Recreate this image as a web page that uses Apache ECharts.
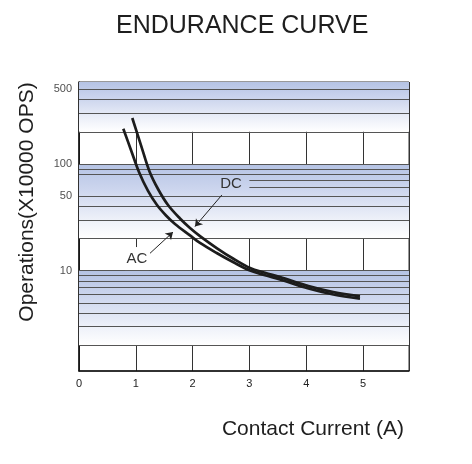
<!DOCTYPE html>
<html>
<head>
<meta charset="utf-8">
<title>Endurance curve</title>
<script src="https://cdn.jsdelivr.net/npm/echarts@6/dist/echarts.min.js"></script>
<style>
  html, body { margin: 0; padding: 0; background: #fff; }
  #chart { width: 472px; height: 464px; }
</style>
</head>
<body>
<div id="chart"></div>
<script>
// values: contact current (A) / operations (x10000)
var currentAC = [0.78, 0.915, 1.056, 1.215, 1.373, 1.532, 1.69, 1.954, 2.13, 2.424, 2.711, 3.011, 3.275, 3.539, 4.04, 4.477, 4.947];
var opsAC     = [213.7, 135,  84,    55.8,  41.2,  32.9,  27.4, 21.4,  18.2, 14.65, 12.06, 10.04, 9.08,  8.27,  6.81, 5.99,  5.47];
var currentDC = [0.938, 1.092, 1.238, 1.391, 1.567, 1.778, 1.954, 2.13, 2.424, 2.711, 3.011, 3.275, 3.539, 4.04, 4.477, 4.947];
var opsDC     = [269,   149.4, 85.9,  58.2,  41.2,  30.8,  25.1,  21.1, 16.3,  13.0,  10.6,  9.56,  8.71,  7.17, 6.30,  5.76];

// axis ticks and horizontal rules
var xTicks = [0, 1, 2, 3, 4, 5];
var yTickLabels = [500, 100, 50, 10];
var gridValues = [2, 3, 4, 5, 6, 7, 8, 9, 10, 20, 30, 40, 50, 80, 90, 100, 200, 300, 400, 500];
var shortGridValues = [60, 70];   // drawn from 3 A to the right only
var bands = [[200, 585], [20, 100], [2, 10]];

var xMax = 5.81;
var font = 'Liberation Sans, Arial, sans-serif';

function pairs(xs, ys) {
    var out = [];
    for (var i = 0; i < xs.length; i++) out.push([xs[i], ys[i]]);
    return out;
}

var ruleLines = gridValues.map(function (v) { return { yAxis: v }; });
shortGridValues.forEach(function (v) {
    ruleLines.push([{ coord: [3, v] }, { coord: [xMax, v] }]);
});

var bandFill = new echarts.graphic.LinearGradient(0, 0, 0, 1, [
    { offset: 0, color: '#b5c3e4' },
    { offset: 0.35, color: '#cdd6ee' },
    { offset: 0.75, color: '#eef1f9' },
    { offset: 1, color: '#ffffff' }
]);

var chart = echarts.init(document.getElementById('chart'));

var option = {
    animation: false,
    title: [
        {
            text: 'ENDURANCE CURVE',
            left: 111,
            top: 9,
            textStyle: { fontFamily: font, fontSize: 25, fontWeight: 'normal', color: '#1e1e1e' }
        },
        {
            text: 'Contact Current (A)',
            right: 63,
            top: 414,
            textStyle: { fontFamily: font, fontSize: 21, fontWeight: 'normal', color: '#1e1e1e' }
        }
    ],
    graphic: [{
        type: 'text',
        x: 27,
        y: 202,
        rotation: Math.PI / 2,
        style: {
            text: 'Operations(X10000 OPS)',
            font: '21px ' + font,
            fill: '#1e1e1e',
            align: 'center',
            verticalAlign: 'middle'
        }
    }],
    grid: {
        left: 79, right: 63, top: 82, bottom: 93,
        show: true, borderColor: '#333', borderWidth: 1
    },
    xAxis: {
        type: 'value',
        min: 0,
        max: xMax,
        interval: 1,
        axisLine: { lineStyle: { color: '#111', width: 1.5 } },
        axisTick: { show: false },
        axisLabel: {
            margin: 7, fontSize: 11, fontFamily: font, color: '#222',
            showMaxLabel: false,
            formatter: function (v) { return xTicks.indexOf(v) >= 0 ? String(v) : ''; }
        },
        splitLine: { show: true, lineStyle: { color: '#333', width: 1 } }
    },
    yAxis: {
        type: 'log',
        min: 1.15,
        max: 585,
        axisLine: { show: true, lineStyle: { color: '#111', width: 1.5 } },
        axisTick: { show: false },
        axisLabel: { show: false },
        splitLine: { show: false }
    },
    series: [
        {
            name: 'ticks',
            type: 'scatter',
            data: yTickLabels.map(function (v) { return [0, v]; }),
            symbolSize: 0,
            clip: false,
            silent: true,
            z: 1,
            label: {
                show: true,
                position: 'left',
                distance: 7,
                fontSize: 11,
                fontFamily: font,
                color: '#222',
                formatter: function (p) { return p.value[1]; }
            },
            markArea: {
                silent: true,
                itemStyle: { color: bandFill },
                data: bands.map(function (b) { return [{ yAxis: b[1] }, { yAxis: b[0] }]; })
            },
            markLine: {
                silent: true,
                symbol: ['none', 'none'],
                label: { show: false },
                lineStyle: { color: '#555', width: 1, type: 'solid' },
                data: ruleLines
            }
        },
        {
            name: 'AC',
            type: 'line',
            data: pairs(currentAC, opsAC),
            showSymbol: false,
            smooth: 0.35,
            z: 5,
            lineStyle: { color: '#1c1c1c', width: 2.7 },
            markLine: {
                silent: true,
                symbol: ['none', 'arrow'],
                symbolSize: 7,
                label: { show: false },
                lineStyle: { color: '#222', width: 1, type: 'solid' },
                data: [[{ coord: [1.25, 14.55] }, { coord: [1.655, 23.0] }]]
            },
            markPoint: {
                silent: true,
                symbol: 'circle',
                symbolSize: 1,
                itemStyle: { color: 'rgba(0,0,0,0)' },
                label: {
                    show: true, position: 'inside', formatter: 'AC',
                    fontSize: 15, fontFamily: font, color: '#333',
                    backgroundColor: '#fff', padding: [8, 2, 0, 2]
                },
                data: [{ coord: [1.02, 13.0] }]
            }
        },
        {
            name: 'DC',
            type: 'line',
            data: pairs(currentDC, opsDC),
            showSymbol: false,
            smooth: 0.35,
            z: 5,
            lineStyle: { color: '#1c1c1c', width: 2.7 },
            markLine: {
                silent: true,
                symbol: ['none', 'arrow'],
                symbolSize: 7,
                label: { show: false },
                lineStyle: { color: '#222', width: 1, type: 'solid' },
                data: [[{ coord: [2.516, 51.2] }, { coord: [2.042, 25.9] }]]
            },
            markPoint: {
                silent: true,
                symbol: 'circle',
                symbolSize: 1,
                itemStyle: { color: 'rgba(0,0,0,0)' },
                label: {
                    show: true, position: 'inside', formatter: 'DC',
                    fontSize: 15, fontFamily: font, color: '#333'
                },
                data: [{ coord: [2.676, 65.3] }]
            }
        }
    ]
};

chart.setOption(option);
</script>
</body>
</html>
